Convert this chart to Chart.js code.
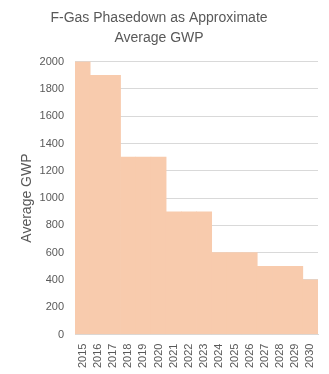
<!DOCTYPE html>
<html>
<head>
<meta charset="utf-8">
<script src="https://cdn.jsdelivr.net/npm/chart.js@4"></script>
<style>
  html, body { margin: 0; padding: 0; background: #fff; }
  #wrap { width: 329px; height: 374px; }
</style>
</head>
<body>
<div id="wrap"><canvas id="gwp"></canvas></div>
<script>
// values
const years = ['2015','2016','2017','2018','2019','2020','2021','2022',
               '2023','2024','2025','2026','2027','2028','2029','2030'];
const avgGwp = [2000, 1900, 1900, 1300, 1300, 1300, 900, 900,
                900, 600, 600, 600, 500, 500, 500, 400];
const yTicks = [0, 200, 400, 600, 800, 1000, 1200, 1400, 1600, 1800, 2000];

const txt = '#595959';
const fam = '"Liberation Sans", Arial, sans-serif';

new Chart(document.getElementById('gwp'), {
  type: 'bar',
  data: {
    labels: years,
    datasets: [{
      label: 'Average GWP',
      data: avgGwp,
      backgroundColor: '#f8cbad',
      borderWidth: 0,
      categoryPercentage: 1,
      barPercentage: 1
    }]
  },
  options: {
    responsive: true,
    maintainAspectRatio: false,
    animation: false,
    layout: { padding: { top: 8, right: 11, bottom: 5, left: 0 } },
    plugins: {
      legend: { display: false },
      tooltip: { enabled: false },
      title: {
        display: true,
        text: ['F-Gas Phasedown as Approximate', 'Average GWP'],
        color: txt,
        font: { family: fam, size: 14, weight: 'normal', lineHeight: 1.45 },
        padding: { top: 0, bottom: 13 }
      }
    },
    scales: {
      x: {
        grid: { display: false },
        border: { color: '#d9d9d9' },
        ticks: {
          color: txt,
          font: { family: fam, size: 11 },
          minRotation: 90,
          maxRotation: 90,
          autoSkip: false,
          padding: 1
        }
      },
      y: {
        min: 0,
        max: 2000,
        afterBuildTicks: axis => { axis.ticks = yTicks.map(v => ({ value: v })); },
        afterFit: axis => { axis.width = 75; },
        grid: { color: '#d9d9d9', drawTicks: false },
        border: { display: false },
        ticks: {
          color: txt,
          font: { family: fam, size: 11 },
          padding: 11,
          callback: v => String(v)
        },
        title: {
          display: true,
          text: 'Average GWP',
          color: txt,
          font: { family: fam, size: 14 },
          padding: { top: 19, bottom: 0 }
        }
      }
    }
  }
});
</script>
</body>
</html>
